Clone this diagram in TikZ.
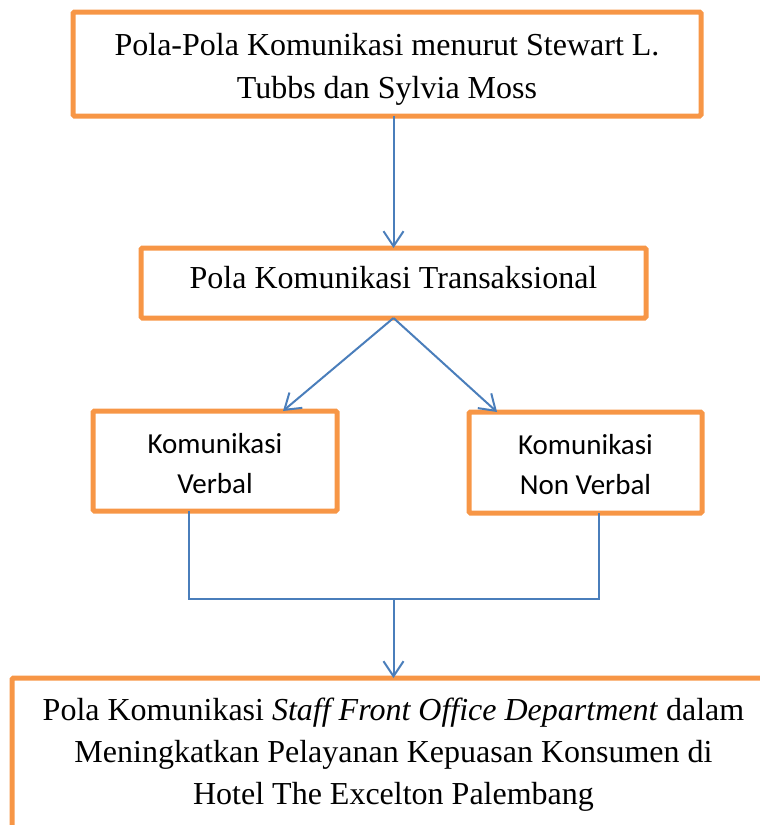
\documentclass[tikz,border=0pt]{standalone}
\usepackage{fontspec}
\setmainfont{Liberation Serif}
\newfontfamily\calibri{Carlito}
\usepackage{xcolor}
\usepackage{tikz}
\usetikzlibrary{arrows.meta}
\definecolor{boxorange}{HTML}{F79646}
\definecolor{lineblue}{HTML}{4A7EBB}
\tikzset{
box/.style={
  draw=boxorange,
  line width=5pt,
  rounded corners=1.5pt,
  outer sep=0pt,
  inner sep=0pt,
  align=center,
  font=\fontsize{32}{43}\selectfont
},
calibox/.style={
  box,
  font=\calibri\fontsize{29}{40}\selectfont,
  text height=64pt,
  text depth=0pt
},
link/.style={draw=lineblue, line width=2pt},
flow/.style={link, -{Straight Barb[length=15pt,width=20pt,line width=2pt]}},
}

\begin{document}
\begin{tikzpicture}[x=1pt,y=-1pt]
\useasboundingbox (0,0) rectangle (760,825);
% the boxes
\node (pola) [box, minimum width=628pt, minimum height=104pt, text height=75pt, text depth=7pt]
  at (387,64) {Pola-Pola Komunikasi menurut Stewart L.\\Tubbs dan Sylvia Moss};
\node (trans) [box, minimum width=505pt, minimum height=70pt, text depth=12pt]
  at (393.5,283) {Pola Komunikasi Transaksional};
\node (verbal) [calibox, minimum width=244pt, minimum height=100pt]
  at (215,461) {Komunikasi\\Verbal};
\node (nonverbal) [calibox, minimum width=233pt, minimum height=101pt]
  at (585.5,462.5) {Komunikasi\\Non Verbal};
\node (hasil) [box, anchor=north, minimum width=763pt, inner ysep=20pt,
  font=\fontsize{32}{42}\selectfont, text height=106pt, text depth=60pt]
  at (393.5,678) {Pola Komunikasi \textit{Staff Front Office Department} dalam\\
  Meningkatkan Pelayanan Kepuasan Konsumen di\\Hotel The Excelton Palembang};
% the arrows
\draw[flow] (trans.north |- pola.south) -- (trans.north);
\draw[flow] (trans.south) -- ([xshift=68pt]verbal.north);
\draw[flow] (trans.south) -- ([xshift=-88.5pt]nonverbal.north);
\coordinate (join) at (hasil.north |- 0,599);
\draw[link] ([xshift=-26pt]verbal.south) |- (join) -| ([xshift=13.5pt]nonverbal.south);
\draw[flow] (join) -- (hasil.north);
\end{tikzpicture}
\end{document}
